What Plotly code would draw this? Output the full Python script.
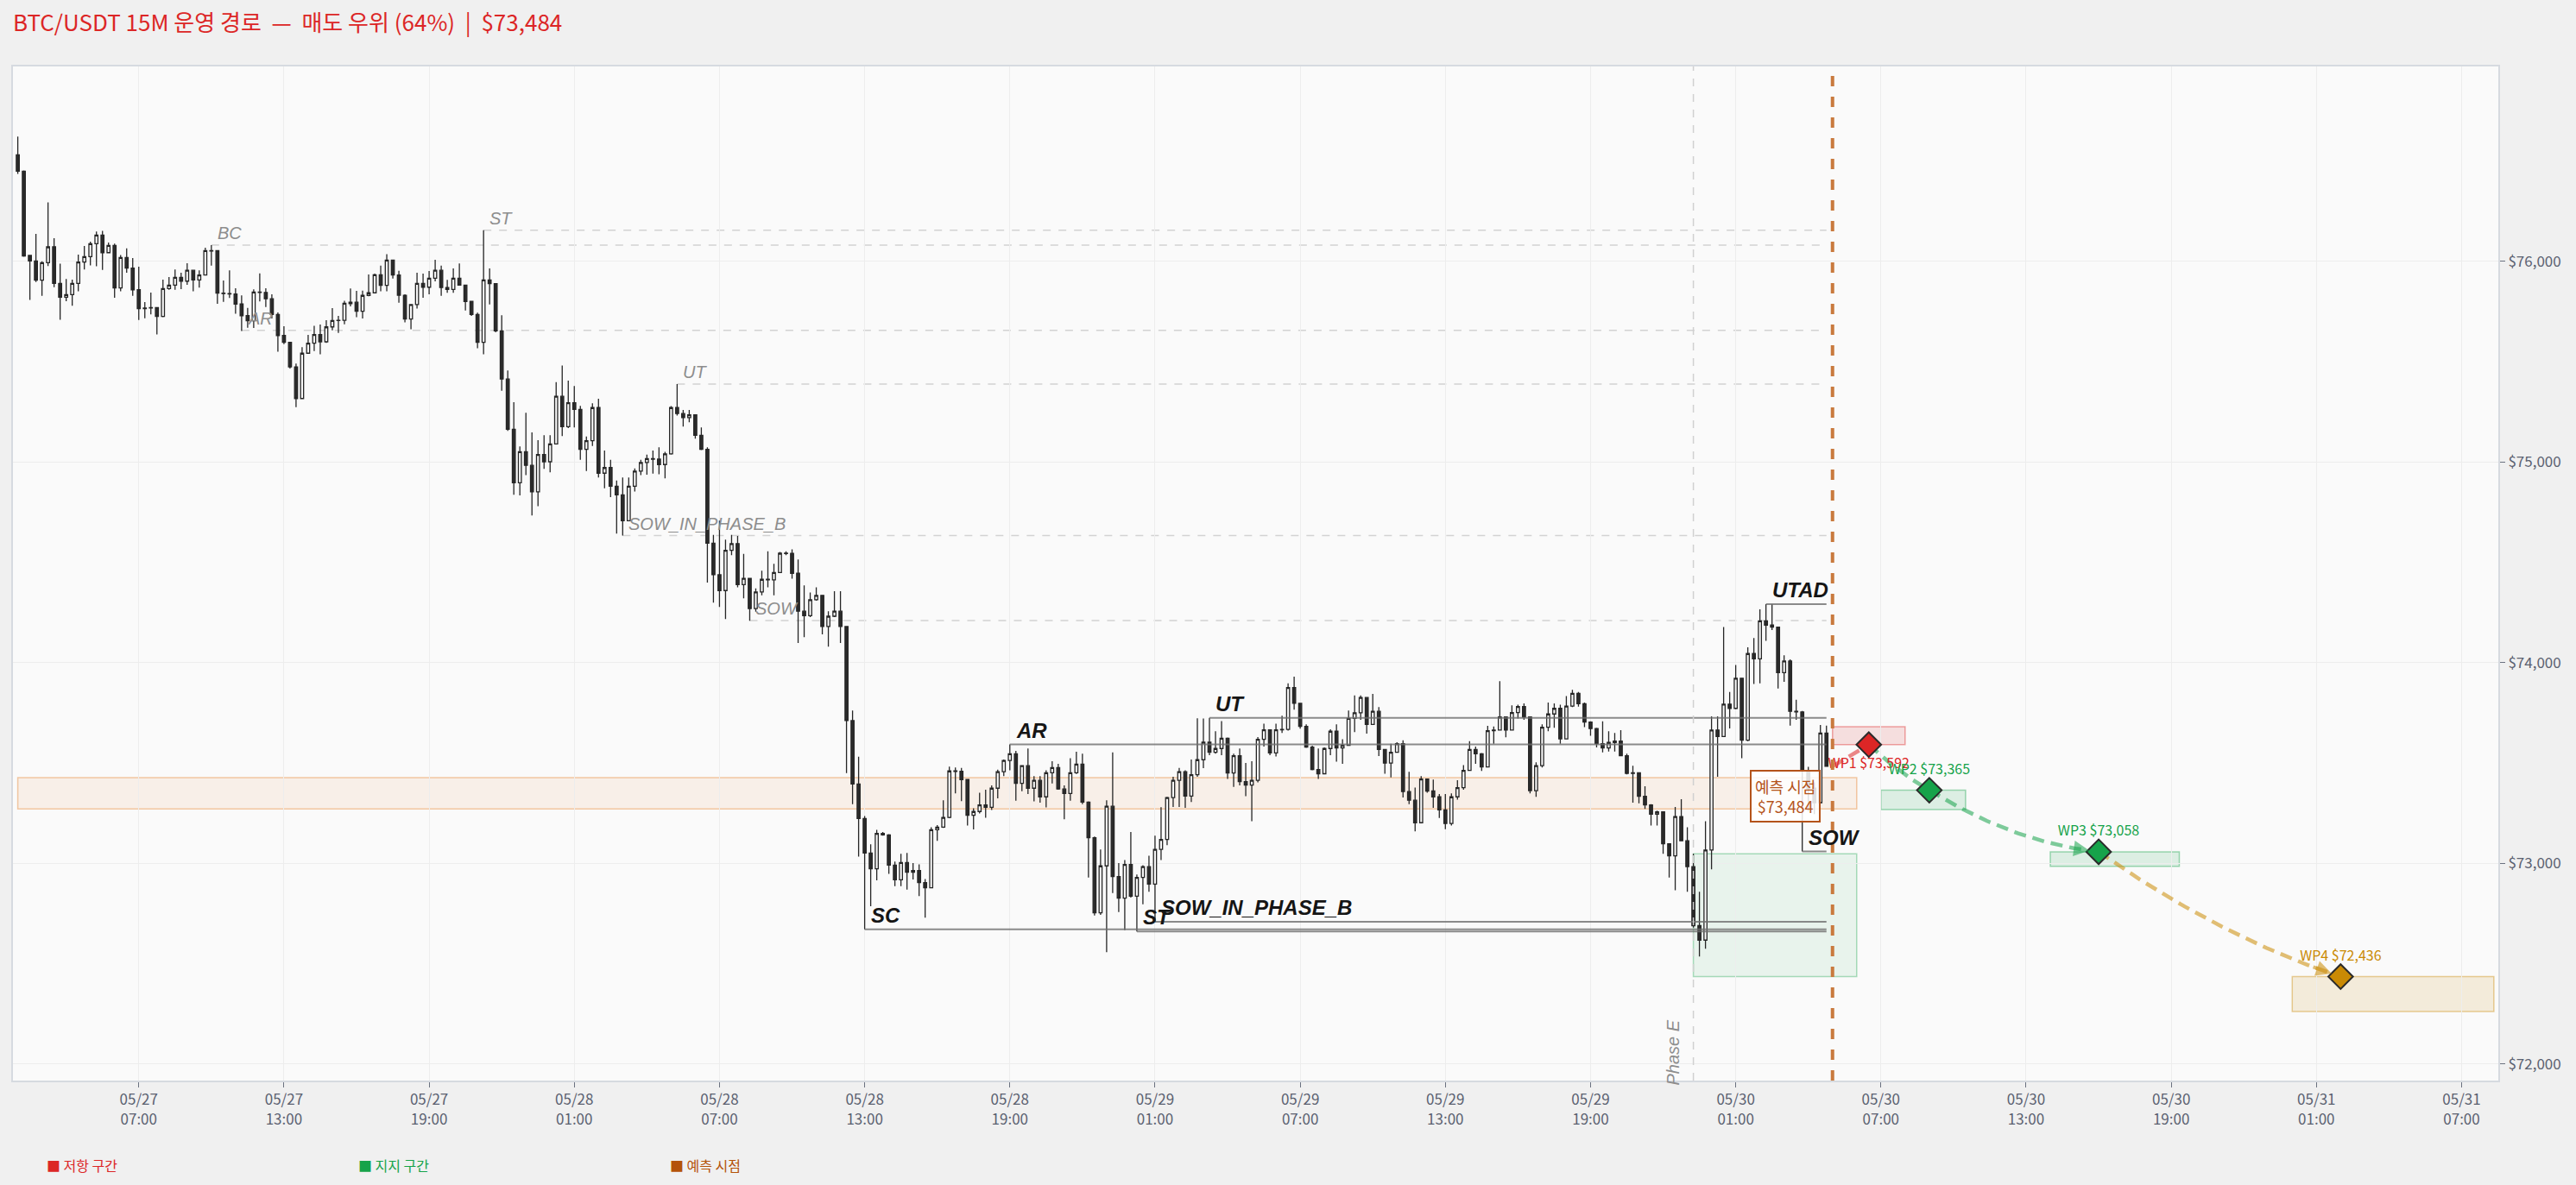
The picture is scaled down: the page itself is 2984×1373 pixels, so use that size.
import numpy as np
import pandas as pd
import plotly.graph_objects as go

# ---------------- data ----------------
candle_start = "2025-05-27 02:00"
opens = [76532,76450,76030,76003,75907,75994,76073,75891,75822,75835,75891,75997,76024,76089,76132,76044,76080,75868,76020,75967,
75859,75765,75768,75770,75726,75865,75882,75921,75902,75956,75908,75933,76054,76054,75842,75840,75838,75788,75730,75705,
75848,75846,75814,75736,75631,75597,75475,75317,75543,75593,75636,75600,75674,75706,75707,75797,75797,75752,75831,75844,
75934,75881,76007,75933,75832,75713,75785,75891,75872,75917,75956,75870,75861,75917,75882,75801,75736,75597,75908,75890,
75654,75414,75164,74897,75052,74984,74852,75038,75002,75091,75328,75177,75296,75263,75064,75107,75272,74945,74973,74880,
74837,74708,74880,74955,74998,75018,75015,74988,75041,75272,75242,75222,75236,75134,75064,74596,74439,74360,74561,74594,
74390,74421,74270,74353,74416,74413,74450,74546,74545,74446,74257,74235,74314,74336,74181,74232,74257,74181,73712,73396,
73224,73052,72973,73150,73142,72992,72919,73005,72956,72965,72905,72879,73168,73181,73229,73461,73459,73418,73240,73259,
73292,73280,73375,73457,73513,73547,73399,73487,73375,73414,73332,73452,73478,73371,73349,73452,73495,73306,73128,72754,
72988,73285,72935,72827,72995,72837,72930,72984,72897,73070,73120,73328,73414,73457,73336,73442,73517,73604,73554,73573,
73624,73451,73537,73408,73391,73414,73619,73666,73551,73666,73668,73877,73798,73683,73580,73468,73447,73573,73659,73576,
73589,73723,73751,73827,73693,73758,73568,73500,73554,73597,73358,73315,73203,73421,73361,73332,73267,73199,73332,73378,
73464,73568,73547,73481,73662,73665,73730,73665,73752,73782,73730,73363,73487,73679,73745,73773,73621,73784,73848,73796,
73705,73672,73597,73576,73603,73610,73537,73449,73452,73335,73292,73246,73257,73098,73038,73234,73113,72984,72690,72618,
73067,73665,73633,73794,73773,73923,73614,74046,74020,74209,74188,74178,73951,74009,73758,73755,73461,73375,73303,73650]
highs = [76622,76454,76030,76138,76001,76295,76116,75989,75913,75910,76034,76077,76099,76149,76153,76095,76089,76032,76065,76017,
75974,75798,75845,75770,75910,75923,75960,75944,75991,75956,75956,76069,76082,76054,75905,75956,75867,75831,75769,75861,
75941,75867,75837,75746,75677,75600,75491,75573,75634,75679,75686,75707,75768,75729,75804,75865,75854,75855,75935,75940,
75980,76037,76007,75954,75837,75786,75944,75940,75953,76009,75980,75908,75966,75990,75882,75801,75745,76156,75965,75890,
75732,75457,75299,75078,75246,75148,75110,75134,75134,75399,75482,75406,75379,75280,75128,75293,75316,75058,75012,74909,
74923,74923,74969,75012,75038,75058,75074,75052,75279,75389,75260,75260,75239,75173,75074,74637,74708,74614,74637,74632,
74543,74421,74371,74459,74556,74493,74553,74556,74565,74515,74386,74350,74376,74336,74257,74357,74357,74181,73762,73532,
73236,73095,73167,73157,73146,73009,73048,73052,73002,72995,72922,73180,73191,73315,73483,73478,73476,73420,73275,73353,
73368,73389,73468,73518,73593,73561,73490,73573,73435,73435,73464,73510,73497,73389,73525,73557,73547,73310,73134,73070,
73315,73554,73002,73017,73157,72945,72991,73038,73139,73280,73332,73432,73476,73464,73518,73723,73722,73726,73659,73710,
73628,73547,73573,73501,73510,73630,73697,73669,73697,73736,73898,73931,73800,73693,73587,73573,73578,73669,73693,73619,
73762,73837,73837,73830,73845,73779,73570,73597,73604,73614,73457,73378,73435,73423,73418,73346,73346,73349,73415,73490,
73609,73583,73550,73686,73683,73908,73733,73788,73791,73798,73733,73504,73693,73802,73798,73791,73834,73865,73855,73802,
73708,73676,73708,73659,73650,73664,73547,73487,73455,73385,73295,73263,73260,73100,73282,73320,73180,73048,72859,73210,
73733,73733,74178,73855,73989,73926,74077,74123,74267,74292,74292,74180,74037,74017,73816,73760,73482,73404,73690,73687]
lows = [76436,76024,75808,75898,75829,75977,75872,75710,75802,75779,75851,75960,75981,75976,75958,76042,75819,75852,75944,75829,
75709,75717,75736,75636,75723,75859,75859,75862,75884,75851,75870,75930,75980,75789,75799,75818,75740,75654,75670,75669,
75801,75773,75716,75550,75588,75467,75274,75317,75540,75554,75538,75594,75657,75644,75687,75776,75723,75716,75827,75841,
75852,75851,75915,75795,75697,75662,75765,75819,75837,75901,75829,75844,75844,75880,75756,75729,75568,75537,75786,75647,
75356,75156,74837,74834,74935,74734,74780,74966,74949,75088,75130,75170,75173,75012,74956,75081,74923,74870,74826,74644,
74634,74705,74854,74935,74937,74943,74940,74919,75037,75232,75177,75199,75117,75060,74400,74300,74278,74218,74536,74376,
74321,74209,74255,74336,74376,74336,74447,74536,74419,74099,74128,74228,74310,74142,74080,74228,74099,73450,73296,73034,
72672,72787,72916,73138,72948,72887,72887,72870,72920,72837,72730,72876,73113,73177,73226,73349,73311,73189,73170,73249,
73228,73266,73325,73435,73464,73313,73360,73346,73309,73303,73279,73399,73368,73220,73313,73446,73296,72930,72741,72744,
72558,72852,72758,72668,72830,72661,72797,72859,72709,73017,73091,73282,73282,73277,73306,73432,73475,73540,73547,73540,
73421,73382,73389,73335,73210,73404,73583,73540,73533,73650,73662,73766,73672,73576,73464,73421,73444,73540,73507,73497,
73587,73655,73716,73647,73690,73535,73447,73429,73552,73329,73296,73160,73200,73353,73277,73227,73171,73189,73318,73368,
73461,73497,73461,73478,73597,73662,73629,73662,73722,73716,73349,73332,73478,73659,73676,73597,73619,73779,73782,73679,
73636,73578,73554,73558,73558,73535,73444,73303,73300,73272,73189,73189,73048,72930,72866,73110,72859,72680,72536,72575,
72971,73432,73630,73673,73769,73525,73609,73894,73898,74109,74163,73872,73905,73687,73716,73060,73260,73246,73300,73482]
closes = [76450,76027,76003,75907,75994,76073,75891,75822,75835,75891,75997,76024,76089,76132,76044,76080,75868,76020,75967,75859,
75765,75768,75770,75726,75865,75882,75921,75902,75956,75908,75933,76054,76052,75842,75840,75838,75788,75730,75705,75848,
75846,75814,75736,75631,75597,75475,75317,75543,75593,75636,75600,75674,75706,75707,75792,75790,75752,75831,75844,75934,
75881,76007,75933,75832,75713,75785,75891,75872,75917,75956,75870,75861,75917,75882,75801,75736,75597,75908,75890,75654,
75414,75164,74897,75052,74984,74852,75038,75002,75091,75328,75177,75296,75263,75064,75107,75272,74945,74973,74880,74837,
74708,74880,74955,74998,75018,75015,74988,75041,75272,75242,75222,75236,75134,75064,74596,74439,74360,74561,74594,74390,
74421,74270,74353,74416,74413,74450,74546,74545,74446,74257,74235,74314,74336,74181,74232,74257,74181,73712,73396,73224,
73052,72973,73150,73142,72992,72919,73005,72956,72965,72905,72879,73168,73181,73229,73461,73459,73418,73240,73259,73292,
73280,73375,73457,73513,73547,73399,73487,73375,73414,73332,73452,73478,73371,73349,73452,73495,73306,73128,72754,72988,
73285,72935,72827,72995,72837,72930,72984,72897,73070,73120,73328,73414,73457,73336,73442,73517,73604,73554,73573,73624,
73451,73537,73408,73391,73414,73619,73666,73551,73666,73668,73877,73798,73683,73580,73468,73447,73573,73659,73576,73589,
73723,73751,73827,73693,73758,73568,73500,73554,73597,73358,73315,73203,73421,73361,73332,73267,73199,73332,73378,73464,
73568,73547,73481,73662,73665,73730,73665,73752,73782,73730,73363,73487,73679,73745,73773,73621,73784,73848,73796,73705,
73672,73597,73576,73603,73610,73537,73449,73452,73335,73292,73246,73257,73098,73038,73234,73113,72984,72690,72618,73067,
73665,73633,73794,73773,73923,73614,74046,74020,74209,74188,74178,73951,74009,73758,73755,73461,73375,73303,73650,73484]

# faded (earlier) Wyckoff events
old_event_names = ["BC", "ST", "AR", "UT", "SOW_IN_PHASE_B", "SOW"]
old_event_times = ["2025-05-27 10:00", "2025-05-27 21:15", "2025-05-27 11:15",
                   "2025-05-28 05:15", "2025-05-28 03:00", "2025-05-28 08:15"]
old_event_prices = [76082, 76156, 75657, 75389, 74634, 74211]

# current Wyckoff events
event_names = ["SC", "AR", "ST", "SOW_IN_PHASE_B", "UT", "UTAD", "SOW"]
event_times = ["2025-05-28 13:00", "2025-05-28 19:00", "2025-05-29 00:15", "2025-05-29 01:00",
               "2025-05-29 03:15", "2025-05-30 02:15", "2025-05-30 03:45"]
event_prices = [72672, 73593, 72661, 72709, 73726, 74292, 73060]

phase_e_time = "2025-05-29 23:15"
phase_e_label = "Phase E"
phase_box_end = "2025-05-30 06:00"
phase_box_low = 72436
phase_box_high = 73048

zone_low = 73272
zone_high = 73428
zone_end = "2025-05-30 06:00"

pred_time = "2025-05-30 05:00"
pred_label = "예측 시점"

wp_names = ["WP1", "WP2", "WP3", "WP4"]
wp_times = ["2025-05-30 06:30", "2025-05-30 09:00", "2025-05-30 16:00", "2025-05-31 02:00"]
wp_prices = [73592, 73365, 73058, 72436]
wp_box_start = ["2025-05-30 05:00", "2025-05-30 07:00", "2025-05-30 14:00", "2025-05-31 00:00"]
wp_box_end = ["2025-05-30 08:00", "2025-05-30 10:30", "2025-05-30 19:20", "2025-05-31 08:20"]
wp_box_low = [73592, 73269, 72986, 72262]
wp_box_high = [73682, 73365, 73058, 72436]

legend_labels = ["저항 구간", "지지 구간", "예측 시점"]

y_ticks = [72000, 73000, 74000, 75000, 76000]
x_tick_start = "2025-05-27 07:00"
x_tick_count = 17

title_text = "BTC/USDT 15M 운영 경로  —  매도 우위 (64%)  |  $73,484"

# ---------------- styles ----------------
FONT = "Noto Sans CJK KR"
LATIN = "Liberation Sans"
RED = "#dc2626"
GREEN = "#16a34a"
GOLD = "#ca8a04"
BROWN = "#b4531a"
wp_colors = [RED, GREEN, GREEN, GOLD]
wp_rgba = ["rgba(220,38,38,{a})", "rgba(22,163,74,{a})", "rgba(22,163,74,{a})", "rgba(202,138,4,{a})"]
seg_bend = [0.5, 0.62, 0.85, 0.68]

times = pd.date_range(candle_start, periods=len(opens), freq="15min")
last_time = times[-1]
last_close = closes[-1]

fig = go.Figure()

fig.add_trace(go.Candlestick(
    x=times, open=opens, high=highs, low=lows, close=closes,
    increasing=dict(line=dict(color="#262626", width=1.3), fillcolor="#fafafa"),
    decreasing=dict(line=dict(color="#262626", width=1.3), fillcolor="#2b2b2b"),
    whiskerwidth=0, showlegend=False, hoverinfo="skip"))

shapes = []
annotations = []

# zone band
shapes.append(dict(type="rect", xref="x", yref="y", x0=times[0], x1=zone_end,
                   y0=zone_low, y1=zone_high, fillcolor="rgba(240,150,80,0.10)",
                   line=dict(color="rgba(235,160,95,0.55)", width=1.5), layer="below"))
# phase E box
shapes.append(dict(type="rect", xref="x", yref="y", x0=phase_e_time, x1=phase_box_end,
                   y0=phase_box_low, y1=phase_box_high, fillcolor="rgba(22,163,74,0.08)",
                   line=dict(color="rgba(22,163,74,0.35)", width=1.5), layer="below"))
# WP boxes
for i in range(len(wp_names)):
    shapes.append(dict(type="rect", xref="x", yref="y", x0=wp_box_start[i], x1=wp_box_end[i],
                       y0=wp_box_low[i], y1=wp_box_high[i],
                       fillcolor=wp_rgba[i].format(a=0.13),
                       line=dict(color=wp_rgba[i].format(a=0.4), width=1.5), layer="below"))

# faded event lines
for name, t, p in zip(old_event_names, old_event_times, old_event_prices):
    shapes.append(dict(type="line", xref="x", yref="y", x0=t, x1=last_time, y0=p, y1=p,
                       line=dict(color="#d2d2d2", width=1.5, dash="dash"), layer="below"))
    annotations.append(dict(x=t, y=p, xref="x", yref="y", text=f"<i>{name}</i>", showarrow=False,
                            xanchor="left", yanchor="bottom", xshift=5, yshift=1,
                            font=dict(family=LATIN, size=20, color="#8d8d8d")))

# active event lines
for name, t, p in zip(event_names, event_times, event_prices):
    shapes.append(dict(type="line", xref="x", yref="y", x0=t, x1=last_time, y0=p, y1=p,
                       line=dict(color="rgba(110,110,110,0.8)", width=2)))
    annotations.append(dict(x=t, y=p, xref="x", yref="y", text=f"<b><i>{name}</i></b>", showarrow=False,
                            xanchor="left", yanchor="bottom", xshift=5, yshift=1,
                            font=dict(family=LATIN, size=24, color="#151515")))

# phase E line
shapes.append(dict(type="line", xref="x", yref="paper", x0=phase_e_time, x1=phase_e_time, y0=0, y1=1,
                   line=dict(color="#d0d0d0", width=1.5, dash="dash")))
annotations.append(dict(x=phase_e_time, y=0, xref="x", yref="paper", text=f"<i>{phase_e_label}</i>",
                        showarrow=False, textangle=-90, xanchor="center", yanchor="bottom",
                        xshift=-24, yshift=-8, font=dict(family=LATIN, size=20, color="#8d8d8d")))

# prediction line
shapes.append(dict(type="line", xref="x", yref="paper", x0=pred_time, x1=pred_time, y0=0, y1=1,
                   line=dict(color="#c97a3e", width=4, dash="dash")))
annotations.append(dict(x=pred_time, y=last_close, xref="x", yref="y",
                        text=f"{pred_label}<br>${last_close:,}", showarrow=False,
                        xanchor="right", yanchor="top", xshift=-14, yshift=-4, align="center",
                        font=dict(family=FONT, size=18, color=BROWN),
                        bgcolor="rgba(255,255,255,0.85)", bordercolor=BROWN, borderwidth=2, borderpad=4))

# path curves
path_t = [pd.Timestamp(pred_time)] + [pd.Timestamp(t) for t in wp_times]
path_p = [last_close] + wp_prices
tt = np.linspace(0, 1, 60)
for i in range(len(wp_names)):
    t0, t1 = path_t[i].value, path_t[i + 1].value
    p0, p1 = path_p[i], path_p[i + 1]
    ct = t0 + 0.5 * (t1 - t0)
    cp = p0 + seg_bend[i] * (p1 - p0)
    bx = (1 - tt) ** 2 * t0 + 2 * (1 - tt) * tt * ct + tt ** 2 * t1
    by = (1 - tt) ** 2 * p0 + 2 * (1 - tt) * tt * cp + tt ** 2 * p1
    col = wp_rgba[i].format(a=0.55)
    fig.add_trace(go.Scatter(x=pd.to_datetime(bx), y=by, mode="lines",
                             line=dict(color=col, width=4.5, dash="14px,8px"),
                             showlegend=False, hoverinfo="skip"))
    k = 52
    annotations.append(dict(x=pd.to_datetime(t1), y=p1, ax=pd.to_datetime(bx[k]), ay=by[k],
                            xref="x", yref="y", axref="x", ayref="y", text="", showarrow=True,
                            arrowhead=2, arrowsize=0.9, arrowwidth=4, arrowcolor=col, standoff=11))

# waypoints
fig.add_trace(go.Scatter(
    x=pd.to_datetime(wp_times), y=wp_prices, mode="markers+text",
    marker=dict(symbol="diamond", size=22, color=wp_colors, line=dict(color="#2b2b2b", width=2)),
    text=[f"{n} ${p:,}" for n, p in zip(wp_names, wp_prices)],
    textposition=["bottom center", "top center", "top center", "top center"],
    textfont=dict(family=FONT, size=16, color=wp_colors),
    showlegend=False, hoverinfo="skip"))

# legend (bottom)
leg_cols = [RED, GREEN, "#b45309"]
leg_x = [52, 413, 774]
for lab, c, px in zip(legend_labels, leg_cols, leg_x):
    annotations.append(dict(x=(px - 15) / 2879, y=-0.0834, xref="paper", yref="paper",
                            text=f"■ {lab}", showarrow=False, xanchor="left", yanchor="middle",
                            font=dict(family=FONT, size=16, color=c)))

xt = pd.date_range(x_tick_start, periods=x_tick_count, freq="6h")
fig.update_layout(
    width=2984, height=1373,
    paper_bgcolor="#f0f0f0", plot_bgcolor="#fafafa",
    margin=dict(l=15, r=90, t=77, b=121),
    font=dict(family=FONT, color="#5b6170"),
    title=dict(text=title_text, x=15 / 2984, xref="container", xanchor="left",
               y=1 - 27 / 1373, yref="container", yanchor="middle",
               font=dict(family=FONT, size=26, color=RED)),
    shapes=shapes, annotations=annotations, showlegend=False,
    xaxis=dict(range=["2025-05-27 01:48", "2025-05-31 08:31"], rangeslider=dict(visible=False),
               tickvals=xt, ticktext=[d.strftime("%m/%d<br>%H:%M") for d in xt],
               ticks="outside", ticklen=6, tickcolor="#6b7280", tickfont=dict(size=17, color="#5b6170"),
               showgrid=True, gridcolor="#ededed", gridwidth=1,
               showline=True, mirror=True, linecolor="#d6dae0", linewidth=2, zeroline=False),
    yaxis=dict(range=[71918, 76972], side="right", tickvals=y_ticks,
               ticktext=[f"${v:,}" for v in y_ticks],
               ticks="outside", ticklen=6, tickcolor="#6b7280", tickfont=dict(size=17, color="#5b6170"),
               showgrid=True, gridcolor="#ededed", gridwidth=1,
               showline=True, mirror=True, linecolor="#d6dae0", linewidth=2, zeroline=False),
)

fig.write_html("out.html")
